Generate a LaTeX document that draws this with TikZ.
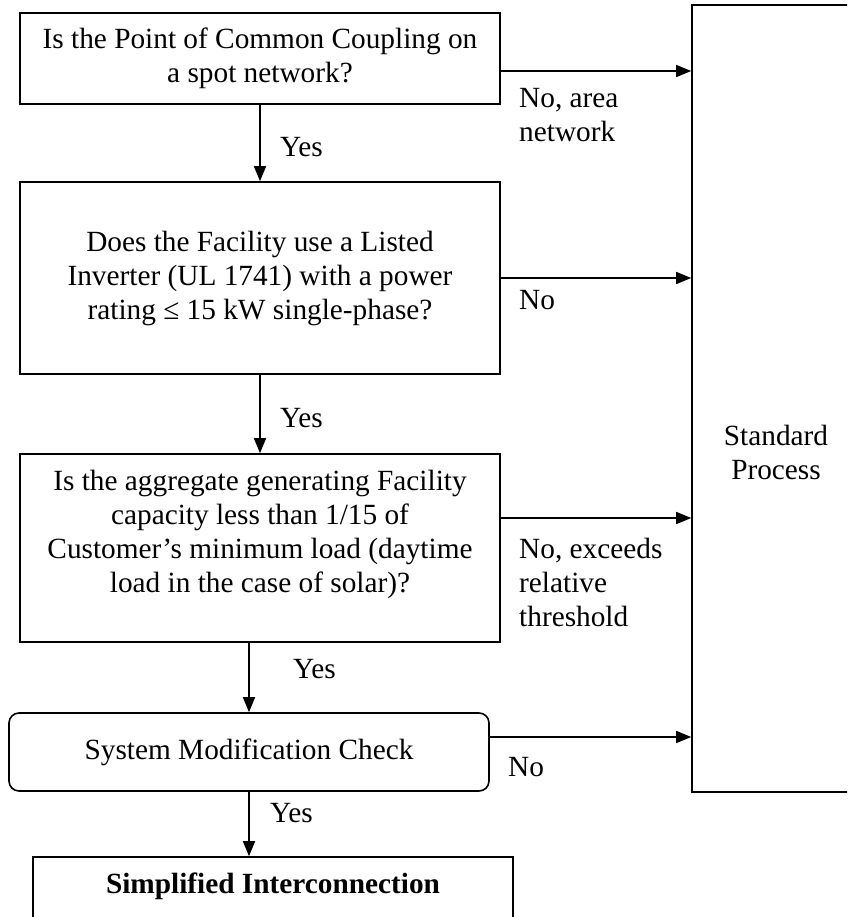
\documentclass[tikz,border=0pt]{standalone}
\usepackage{fontspec}
\setmainfont{Liberation Serif}
\usetikzlibrary{arrows.meta,calc}
\begin{document}
\begin{tikzpicture}[x=1pt,y=-1pt,
  box/.style={draw,line width=1.6pt,inner sep=0pt,align=center,font=\fontsize{29.3}{34}\selectfont},
  txt/.style={font=\fontsize{29.3}{34}\selectfont,inner sep=0pt,align=center},
  lbl/.style={font=\fontsize{29.3}{34}\selectfont,inner sep=0pt,align=left,anchor=north west},
  arr/.style={line width=1.6pt,-{Triangle[length=15pt,width=12pt]}}]
\useasboundingbox (0,0) rectangle (847,917);
\clip (0,0) rectangle (847,917);
% boxes
\node[box,minimum width=480pt,minimum height=91pt] (b1) at (260,58.5)
  {Is the Point of Common Coupling on\\a spot network?};
\node[box,minimum width=480pt,minimum height=192pt] (b2) at (260,278)
  {Does the Facility use a Listed\\Inverter (UL 1741) with a power\\rating ≤ 15 kW single-phase?};
\node[box,minimum width=480pt,minimum height=188pt] (b3) at (260,548) {};
\node[txt] (t3) at (260,534)
  {Is the aggregate generating Facility\\capacity less than 1/15 of\\Customer’s minimum load (daytime\\load in the case of solar)?};
\node[box,rounded corners=10pt,minimum width=480pt,minimum height=78pt] (b4) at (249,752)
  {System Modification Check};
\node[box,minimum width=480pt,minimum height=83pt] (b5) at (273,898.5) {};
\node[txt] (t5) at (273,886) {\bfseries Simplified Interconnection};
\node[box,minimum width=178pt,minimum height=787pt] (sp) at (781,398.5) {};
\node[txt] (tsp) at (776,452) {Standard\\Process};
% arrows right
\draw[arr] ([yshift=-12.5pt]b1.east) -- ([yshift=-12.5pt]b1.east -| sp.west);
\draw[arr] (b2.east) -- (b2.east -| sp.west);
\draw[arr] ([yshift=30pt]b3.east) -- ([yshift=30pt]b3.east -| sp.west);
\draw[arr] ([yshift=15pt]b4.east) -- ([yshift=15pt]b4.east -| sp.west);
% arrows down
\draw[arr] (b1.south) -- (b2.north);
\draw[arr] (b2.south) -- (b3.north);
\draw[arr] (b4.north |- b3.south) -- (b4.north);
\draw[arr] (b4.south) -- (b4.south |- b5.north);
% labels
\node[lbl] (l1) at (519,88) {No, area\\network};
\node[lbl] (l2) at (519,290) {No};
\node[lbl] (l3) at (519,538) {No, exceeds\\relative\\threshold};
\node[lbl] (l4) at (508,757) {No};
\node[lbl] (y1) at (280,137) {Yes};
\node[lbl] (y2) at (280,408) {Yes};
\node[lbl] (y3) at (293,659) {Yes};
\node[lbl] (y4) at (270,803) {Yes};
\end{tikzpicture}
\end{document}
